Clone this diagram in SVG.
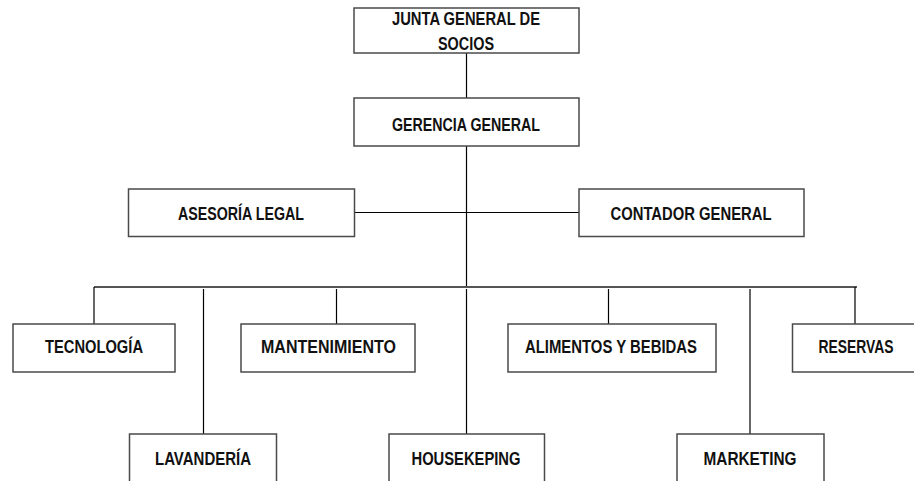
<svg xmlns="http://www.w3.org/2000/svg" width="914" height="481" viewBox="0 0 914 481">
<style>
.box{fill:#fff;stroke:#4a4a4a;stroke-width:1.5}
.t{font-family:"Liberation Sans",Arial,sans-serif;font-weight:bold;font-size:18px;fill:#111;text-anchor:middle}
.ln{stroke:#000;stroke-width:1.2;fill:none}
.bus{stroke:#555;stroke-width:2;fill:none}
</style>
<rect width="914" height="481" fill="#fff"/>
<g id="connectors">
<line class="ln" x1="466.5" y1="53" x2="466.5" y2="98"/>
<line class="ln" x1="466.5" y1="146" x2="466.5" y2="287"/>
<line class="ln" x1="354" y1="212.5" x2="579" y2="212.5"/>
<line class="bus" x1="94" y1="287" x2="857" y2="287"/>
<line class="ln" x1="94" y1="287" x2="94" y2="324"/>
<line class="ln" x1="203.5" y1="289" x2="203.5" y2="434"/>
<line class="ln" x1="336.5" y1="289" x2="336.5" y2="324"/>
<line class="ln" x1="466.5" y1="289" x2="466.5" y2="434"/>
<line class="ln" x1="608.5" y1="289" x2="608.5" y2="324"/>
<line class="ln" x1="750" y1="289" x2="750" y2="434"/>
<line class="ln" x1="855" y1="287" x2="855" y2="324"/>
</g>
<g id="junta">
<rect class="box" x="354" y="8" width="225" height="45"/>
<text class="t" x="466" y="25" textLength="148" lengthAdjust="spacingAndGlyphs">JUNTA GENERAL DE</text>
<text class="t" x="466" y="49.5" textLength="56" lengthAdjust="spacingAndGlyphs">SOCIOS</text>
</g>
<g id="gerencia">
<rect class="box" x="354" y="98" width="225" height="48"/>
<text class="t" x="466" y="131" textLength="148" lengthAdjust="spacingAndGlyphs">GERENCIA GENERAL</text>
</g>
<g id="asesoria">
<rect class="box" x="128.5" y="189" width="226" height="47.5"/>
<text class="t" x="241" y="219.5" textLength="126" lengthAdjust="spacingAndGlyphs">ASESORÍA LEGAL</text>
</g>
<g id="contador">
<rect class="box" x="579" y="189" width="225" height="47.5"/>
<text class="t" x="691" y="219.5" textLength="161" lengthAdjust="spacingAndGlyphs">CONTADOR GENERAL</text>
</g>
<g id="tecnologia">
<rect class="box" x="13" y="324" width="162" height="48"/>
<text class="t" x="94" y="353" textLength="98" lengthAdjust="spacingAndGlyphs">TECNOLOGÍA</text>
</g>
<g id="mantenimiento">
<rect class="box" x="241" y="324" width="174" height="48"/>
<text class="t" x="328.5" y="353" textLength="135" lengthAdjust="spacingAndGlyphs">MANTENIMIENTO</text>
</g>
<g id="alimentos">
<rect class="box" x="508" y="324" width="208" height="48"/>
<text class="t" x="611" y="353" textLength="172" lengthAdjust="spacingAndGlyphs">ALIMENTOS Y BEBIDAS</text>
</g>
<g id="reservas">
<rect class="box" x="792.5" y="324" width="130" height="48"/>
<text class="t" x="856" y="353" textLength="75" lengthAdjust="spacingAndGlyphs">RESERVAS</text>
</g>
<g id="lavanderia">
<rect class="box" x="129.5" y="434" width="147" height="60"/>
<text class="t" x="203" y="465" textLength="96" lengthAdjust="spacingAndGlyphs">LAVANDERÍA</text>
</g>
<g id="housekeping">
<rect class="box" x="389" y="434" width="155.5" height="60"/>
<text class="t" x="466" y="465" textLength="109" lengthAdjust="spacingAndGlyphs">HOUSEKEPING</text>
</g>
<g id="marketing">
<rect class="box" x="677" y="434" width="147" height="60"/>
<text class="t" x="750" y="465" textLength="93" lengthAdjust="spacingAndGlyphs">MARKETING</text>
</g>
</svg>
